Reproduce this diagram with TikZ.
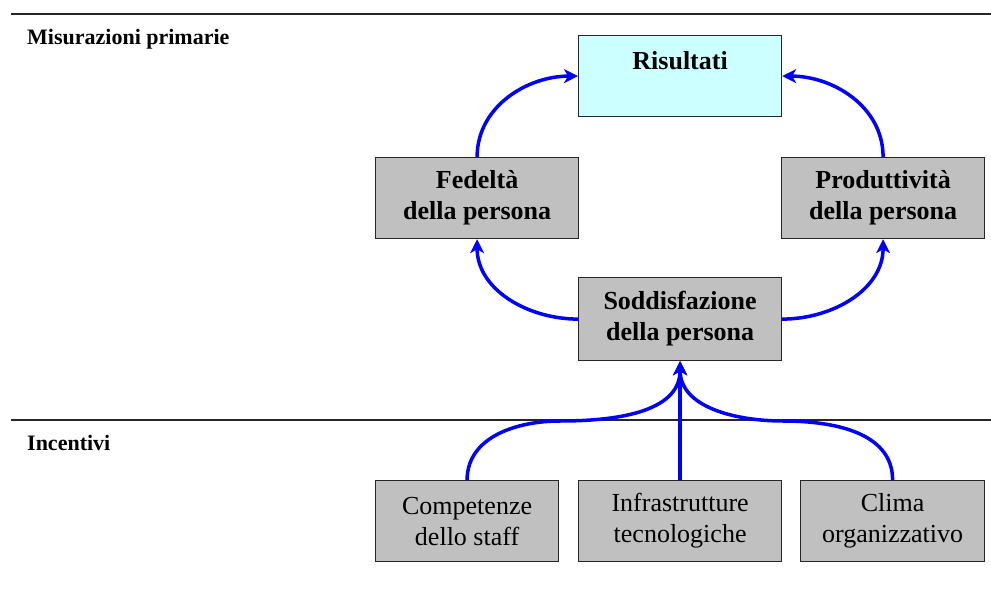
\documentclass[tikz,border=0pt]{standalone}
\usepackage{fontspec}
\setmainfont{Liberation Serif}
\usetikzlibrary{arrows.meta}
\definecolor{boxgray}{RGB}{192,192,192}
\definecolor{boxcyan}{RGB}{204,255,255}
\begin{document}
\begin{tikzpicture}[x=1pt,y=-1pt,
  box/.style={draw=black!85, line width=1.2pt, fill=boxgray, minimum width=203pt,
    minimum height=81pt, align=center, inner sep=0pt,
    font=\fontsize{26}{31}\selectfont\bfseries},
  smallbox/.style={box, minimum width=183pt, font=\fontsize{26}{31}\selectfont},
  flow/.style={draw=blue, line width=3.5pt, -{Stealth[length=14pt,width=14pt,inset=4pt]}},
  rule/.style={line width=1.6pt, draw=black!85},
  section/.style={anchor=west, inner sep=0pt, font=\fontsize{22}{26}\selectfont\bfseries}]
\useasboundingbox (0,0) rectangle (991,596);

% section rules
\coordinate (r1a) at (11,14);  \coordinate (r1b) at (991,14);
\coordinate (r2a) at (11,420); \coordinate (r2b) at (991,420);
\draw[rule] (r1a) -- (r1b);
\draw[rule] (r2a) -- (r2b);

% section titles
\node[section] (lblm) at (27,39) {Misurazioni primarie};
\node[section] (lbli) at (27,443) {Incentivi};

% measurement boxes
\node[box, fill=boxcyan, anchor=north west] (ris) at (578,35) {Risultati\\\mbox{}};
\node[box, anchor=north west] (fed) at (375,157) {Fedeltà\\della persona};
\node[box, anchor=north west] (pro) at (781,157) {Produttività\\della persona};
\node[box, anchor=north west, minimum height=83pt] (sod) at (578,277) {Soddisfazione\\della persona};

% incentive boxes
\node[smallbox, anchor=north west] (comp) at (375,480) {Competenze\\dello staff};
\node[smallbox, anchor=north west, minimum width=203pt] (infra) at (578,480) {Infrastrutture\\tecnologiche};
\node[smallbox, anchor=north west, minimum width=184pt] (clima) at (800,480) {Clima\\organizzativo};

% upper cycle
\draw[flow] (fed.north) to[out=90,in=180] (ris.west);
\draw[flow] (pro.north) to[out=90,in=0] (ris.east);
\draw[flow] (sod.west) to[out=180,in=-90] (fed.south);
\draw[flow] (sod.east) to[out=0,in=-90] (pro.south);

% incentives feeding satisfaction
\coordinate (jl) at (560,421);
\coordinate (jr) at (783,421);
\draw[flow] (comp.north) to[out=90,in=180] (jl) to[out=0,in=-90] (sod.south);
\draw[flow] (clima.north) to[out=90,in=0] (jr) to[out=180,in=-90] (sod.south);
\draw[flow] (infra.north) -- (sod.south);
\end{tikzpicture}
\end{document}
